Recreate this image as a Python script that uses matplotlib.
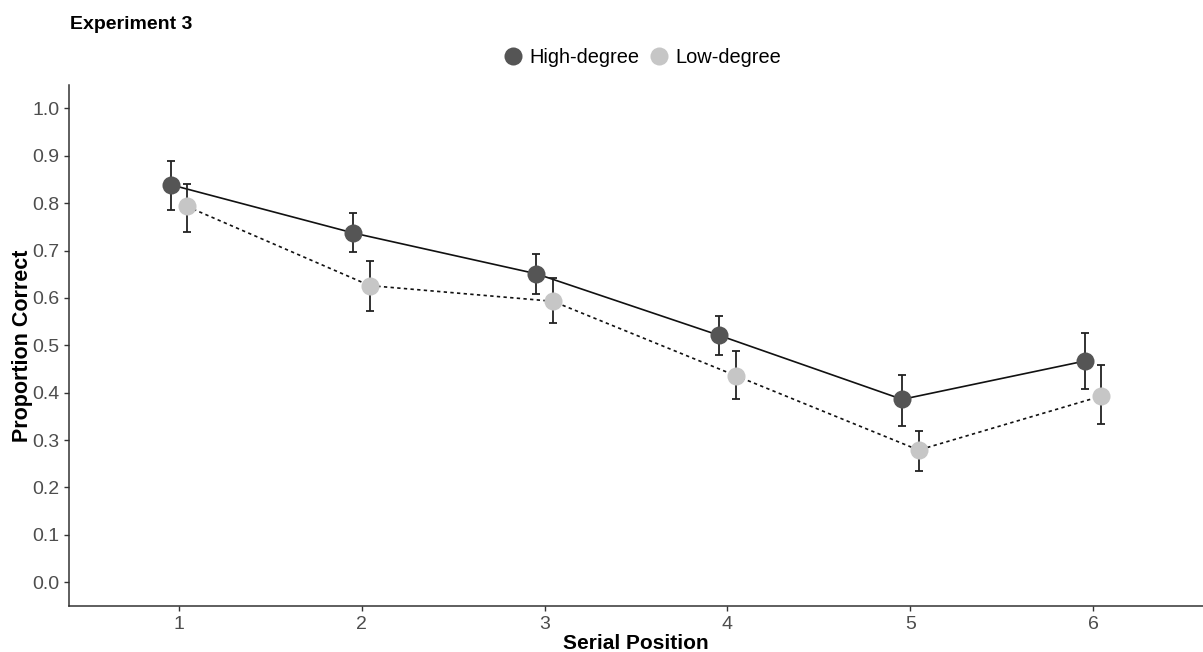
import matplotlib
matplotlib.use("Agg")
import matplotlib.pyplot as plt
import numpy as np

plt.rcParams['font.family'] = ['Liberation Sans', 'DejaVu Sans']

# Données
positions = [1, 2, 3, 4, 5, 6]
high_mean = [0.839, 0.737, 0.651, 0.521, 0.386, 0.467]
high_lo = [0.786, 0.696, 0.609, 0.480, 0.330, 0.408]
high_hi = [0.888, 0.780, 0.693, 0.562, 0.438, 0.526]
low_mean = [0.793, 0.626, 0.593, 0.436, 0.279, 0.393]
low_lo = [0.740, 0.573, 0.548, 0.387, 0.235, 0.334]
low_hi = [0.841, 0.677, 0.643, 0.488, 0.319, 0.459]
y_ticks = [0.0, 0.1, 0.2, 0.3, 0.4, 0.5, 0.6, 0.7, 0.8, 0.9, 1.0]

fig = plt.figure(figsize=(12.03, 6.52), dpi=100)
ax = fig.add_axes([0.0574, 0.0706, 0.9426, 0.7995])

dodge = 0.045
x = np.array(positions, dtype=float)
series = [
    (x - dodge, high_mean, high_lo, high_hi, '#555555', '-', 'High-degree'),
    (x + dodge, low_mean, low_lo, low_hi, '#c6c6c6', (0, (2, 2)), 'Low-degree'),
]

for xs, m, lo, hi, col, ls, lab in series:
    m = np.array(m)
    err = [m - np.array(lo), np.array(hi) - m]
    ax.plot(xs, m, color='#111111', linestyle=ls, linewidth=1.2, zorder=1)
    ax.errorbar(xs, m, yerr=err, fmt='none', ecolor='#222222',
                elinewidth=1.3, capsize=3.2, capthick=1.3, zorder=2)
    ax.plot(xs, m, 'o', color=col, markersize=13, label=lab, zorder=3,
            markeredgewidth=0)

ax.set_xlim(0.4, 6.6)
ax.set_ylim(-0.05, 1.05)
ax.set_xticks(positions)
ax.set_xticklabels([str(p) for p in positions])
ax.set_yticks(y_ticks)
ax.set_yticklabels([f"{v:.1f}" for v in y_ticks])

for side in ['top', 'right']:
    ax.spines[side].set_visible(False)
for side in ['left', 'bottom']:
    ax.spines[side].set_color('#333333')
    ax.spines[side].set_linewidth(1.1)
ax.tick_params(axis='both', colors='#333333', labelcolor='#4d4d4d',
               labelsize=14, length=3.5, width=1)

ax.set_xlabel("Serial Position", fontsize=15, fontweight='bold', labelpad=1)
ax.set_ylabel("Proportion Correct", fontsize=15.5, fontweight='bold')
ax.yaxis.set_label_coords(-0.0414, 0.5)
ax.yaxis.label.set_va('center')

fig.text(0.058, 0.962, "Experiment 3", fontsize=14, fontweight='bold',
         ha='left', va='center')

fig.legend(loc='center', bbox_to_anchor=(0.532, 0.912), ncol=2, frameon=False,
           fontsize=14.4, handletextpad=0.1, columnspacing=0.3, markerscale=1.0,
           handlelength=1.4)

fig.savefig("out.png", dpi=100, facecolor='white')
